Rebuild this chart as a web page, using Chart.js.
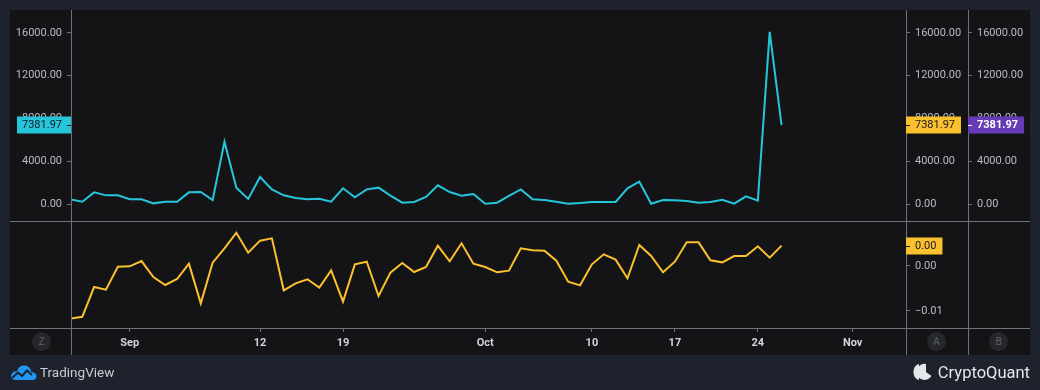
<!DOCTYPE html>
<html><head><meta charset="utf-8">
<script src="https://cdn.jsdelivr.net/npm/chart.js@4.4.1/dist/chart.umd.min.js"></script>
<style>
html,body{margin:0;padding:0;background:#1e222d;width:1040px;height:390px;overflow:hidden;font-family:Roboto,"Liberation Sans",sans-serif;}
#panel{position:absolute;left:10px;top:10px;width:1020px;height:345px;background:#141417;}
#c1{position:absolute;left:10px;top:10px;}
#c2{position:absolute;left:10px;top:221px;}
.circ{position:absolute;top:332px;width:19px;height:19px;border-radius:50%;background:#25272c;color:#5d606b;font-size:10px;line-height:19px;text-align:center;}
#tv{position:absolute;left:10px;top:363px;height:18px;display:flex;align-items:center;color:#c9ccd4;font-size:13.5px;}
#cq{position:absolute;right:10px;top:361px;height:22px;display:flex;align-items:center;color:#e4e6eb;font-size:16.5px;}
</style></head>
<body>
<div id="panel"></div>
<canvas id="c1" width="1020" height="211"></canvas>
<canvas id="c2" width="1020" height="134"></canvas>
<div class="circ" style="left:32px">Z</div>
<div class="circ" style="left:927px">A</div>
<div class="circ" style="left:989px">B</div>
<div id="tv"><svg width="27" height="16" viewBox="0 0 27 16" style="margin-right:3px"><path d="M6 16 C1 16 0 12 2 9.5 C3 7.5 5.5 7 7 7.5 C8 3 11.5 1 15 1.5 C19 2 21 5 21 8 C24.5 8 27 10.5 26.5 13 C26 15 24.5 16 22.5 16 Z" fill="#2196f3"/><path d="M2 14 L8 8.5 L12 12 L17 6.5 L22 11" stroke="#1e222d" stroke-width="2" fill="none"/></svg>TradingView</div>
<div id="cq"><svg width="19" height="18" viewBox="0 0 19 18" style="margin-right:6px"><path d="M6 1 C2 2 0.5 5.5 0.5 9 C0.5 12.5 2 16 6 17 Z" fill="#e4e6eb"/><path d="M13 1 A8 8 0 1 0 18.5 13 L13 9 Z" fill="#e4e6eb"/></svg>CryptoQuant</div>
<script>
// ---- data ----
const dates = ['08-27','08-28','08-29','08-30','08-31',
 '09-01','09-02','09-03','09-04','09-05','09-06','09-07','09-08','09-09','09-10',
 '09-11','09-12','09-13','09-14','09-15','09-16','09-17','09-18','09-19','09-20',
 '09-21','09-22','09-23','09-24','09-25','09-26','09-27','09-28','09-29','09-30',
 '10-01','10-02','10-03','10-04','10-05','10-06','10-07','10-08','10-09','10-10',
 '10-11','10-12','10-13','10-14','10-15','10-16','10-17','10-18','10-19','10-20',
 '10-21','10-22','10-23','10-24','10-25','10-26'];
const seriesTop = [440,215,1090,810,810,
 440,440,60,215,215,1090,1120,375,5830,1530,
 470,2530,1370,810,560,440,500,215,1470,630,
 1370,1530,780,125,190,655,1750,1120,780,935,
 30,125,750,1370,440,375,215,30,95,190,
 190,190,1470,2090,30,375,345,280,125,190,
 400,30,720,310,16100,7381.97];
const seriesBottom = [-0.0117,-0.0113,-0.00467,-0.00526,-0.00015,
 -0.00007,0.0011,-0.00244,-0.00422,-0.00289,0.00052,-0.0083,0.00074,0.00393,0.0074,
 0.00296,0.00563,0.00615,-0.00541,-0.00385,-0.00295,-0.00481,-0.00096,-0.00793,0.00037,
 0.00096,-0.00667,-0.00148,0.00067,-0.00133,-0.00022,0.00452,0.00104,0.00504,0.00052,
 -0.00022,-0.00141,-0.00104,0.00393,0.00348,0.00341,0.00119,-0.00348,-0.0043,0.00037,
 0.00259,0.00141,-0.00274,0.00467,0.00222,-0.00141,0.00096,0.00526,0.00526,0.00126,
 0.00081,0.00222,0.00222,0.00437,0.00185,0.00452];
const xTickDates = ['09-01','09-12','09-19','10-01','10-10','10-17','10-24','11-01'];
const xTickLabels = ['Sep','12','19','Oct','10','17','24','Nov'];
const topTicks = [0,4000,8000,12000,16000];
const bottomTicks = [-0.01,0];

// ---- helpers ----
const YEAR = '2020-';
const base = Date.parse(YEAR+'09-01');
const dayOf = d => (Date.parse(YEAR+d) - base)/86400000;
const xs = dates.map(dayOf);
const X_MIN = -4.95, X_MAX = 65.5;
const TOP_MIN = -1590, TOP_MAX = 18150;
const BOT_MIN = -0.01378, BOT_MAX = 0.01;
const axisCol = '#6f727c';
const labCol = '#b8bbc3';
const font = {family:'Roboto, "Liberation Sans", sans-serif', size:11};
const CYAN = '#26c6da', YELLOW = '#fbc02d', PURPLE = '#673ab7';

function fmt(v){ return (v<0?'\u2212':'') + Math.abs(v).toFixed(2); }

function yAxis(pos, min, max, ticks, show, w){
  return {
    type:'linear', position:pos, min, max,
    afterFit:s=>{s.width=w; s.paddingTop=0; s.paddingBottom=0;},
    afterBuildTicks:s=>{s.ticks = ticks.map(v=>({value:v}));},
    ticks:{display:show, callback:v=>fmt(v), color:labCol, font, padding:5},
    grid:{display:show, drawOnChartArea:false, drawTicks:true, tickLength:4, color:axisCol, tickColor:axisCol},
    border:{display:false}
  };
}

function drawBadge(ctx, x, y, w, bg, fg, text, align, bold){
  ctx.save();
  ctx.fillStyle = bg;
  ctx.fillRect(x, Math.round(y)-8.5, w, 17);
  ctx.strokeStyle = fg; ctx.lineWidth = 1;
  ctx.beginPath();
  const yy = Math.round(y)+0.5;
  if (align==='right'){ ctx.moveTo(x+w-4, yy); ctx.lineTo(x+w, yy); }
  else { ctx.moveTo(x, yy); ctx.lineTo(x+4, yy); }
  ctx.stroke();
  ctx.fillStyle = fg;
  ctx.font = (bold?'bold ':'') + '11px Roboto, "Liberation Sans", sans-serif';
  ctx.textBaseline = 'middle';
  if (align==='right'){ ctx.textAlign='right'; ctx.fillText(text, x+w-9, y+0.5); }
  else { ctx.textAlign='left'; ctx.fillText(text, x+9, y+0.5); }
  ctx.restore();
}

function vline(ctx, x, y0, y1){ ctx.beginPath(); ctx.moveTo(x+0.5,y0); ctx.lineTo(x+0.5,y1); ctx.stroke(); }
function hline(ctx, y, x0, x1){ ctx.beginPath(); ctx.moveTo(x0,y+0.5); ctx.lineTo(x1,y+0.5); ctx.stroke(); }

const frameTop = {id:'frameTop', afterDraw(c){
  const ctx = c.ctx, a = c.chartArea;
  ctx.save(); ctx.strokeStyle = axisCol; ctx.lineWidth = 1;
  vline(ctx, a.left, 0, c.height); vline(ctx, a.right, 0, c.height); vline(ctx, c.scales.yA.right, 0, c.height);
  ctx.restore();
  const v = seriesTop[seriesTop.length-1];
  const y = c.scales.yL.getPixelForValue(v);
  const t = v.toFixed(2);
  ctx.font = '11px Roboto, "Liberation Sans", sans-serif';
  const tw = ctx.measureText(t).width;
  drawBadge(ctx, a.left - (tw+14), y, tw+14, CYAN, '#131722', t, 'right', false);
  drawBadge(ctx, a.right, y, tw+15, YELLOW, '#131722', t, 'left', false);
  ctx.font = 'bold 11px Roboto, "Liberation Sans", sans-serif';
  const tb = ctx.measureText(t).width;
  drawBadge(ctx, c.scales.yA.right, y, tb+15, PURPLE, '#ffffff', t, 'left', true);
}};

const frameBottom = {id:'frameBottom', afterDraw(c){
  const ctx = c.ctx, a = c.chartArea;
  ctx.save(); ctx.strokeStyle = axisCol; ctx.lineWidth = 1;
  hline(ctx, 0, 0, c.width); hline(ctx, a.bottom, 0, c.width);
  vline(ctx, a.left, 0, c.height); vline(ctx, a.right, 0, c.height); vline(ctx, c.scales.yA.right, 0, c.height);
  ctx.restore();
  const v = seriesBottom[seriesBottom.length-1];
  const y = c.scales.yL.getPixelForValue(v);
  const t = fmt(v);
  ctx.font = '11px Roboto, "Liberation Sans", sans-serif';
  const tw = ctx.measureText(t).width;
  drawBadge(ctx, a.right, y, tw+15, YELLOW, '#131722', t, 'left', false);
}};

const common = {responsive:false, animation:false, events:[], devicePixelRatio:1,
  layout:{padding:0}, plugins:{legend:{display:false}, tooltip:{enabled:false}}};

new Chart(document.getElementById('c1'), {
  type:'line',
  data:{datasets:[{data: xs.map((x,i)=>({x, y:seriesTop[i]})), borderColor:CYAN, borderWidth:2, pointRadius:0, tension:0, yAxisID:'yL', xAxisID:'x'}]},
  options:Object.assign({}, common, {
    scales:{
      x:{type:'linear', display:false, min:X_MIN, max:X_MAX},
      yL: yAxis('left', TOP_MIN, TOP_MAX, topTicks, true, 61),
      yA: yAxis('right', TOP_MIN, TOP_MAX, topTicks, true, 62),
      yB: yAxis('right', TOP_MIN, TOP_MAX, topTicks, true, 62)
    }
  }),
  plugins:[frameTop]
});

new Chart(document.getElementById('c2'), {
  type:'line',
  data:{datasets:[{data: xs.map((x,i)=>({x, y:seriesBottom[i]})), borderColor:YELLOW, borderWidth:2, pointRadius:0, tension:0, yAxisID:'yL', xAxisID:'x'}]},
  options:Object.assign({}, common, {
    scales:{
      x:{type:'linear', position:'bottom', min:X_MIN, max:X_MAX,
         afterFit:s=>{s.height=27; s.paddingLeft=0; s.paddingRight=0;},
         afterBuildTicks:s=>{s.ticks = xTickDates.map(d=>({value:dayOf(d)}));},
         ticks:{autoSkip:false, maxRotation:0, padding:5, color:'#d1d4dc', font:{family:font.family, size:11, weight:'bold'},
                callback:(v,i)=>xTickLabels[i]},
         grid:{drawOnChartArea:false, drawTicks:true, tickLength:4, color:axisCol, tickColor:axisCol},
         border:{display:false}},
      yL: yAxis('left', BOT_MIN, BOT_MAX, bottomTicks, false, 61),
      yA: yAxis('right', BOT_MIN, BOT_MAX, bottomTicks, true, 62),
      yB: yAxis('right', BOT_MIN, BOT_MAX, bottomTicks, false, 62)
    }
  }),
  plugins:[frameBottom]
});
</script>
</body></html>
